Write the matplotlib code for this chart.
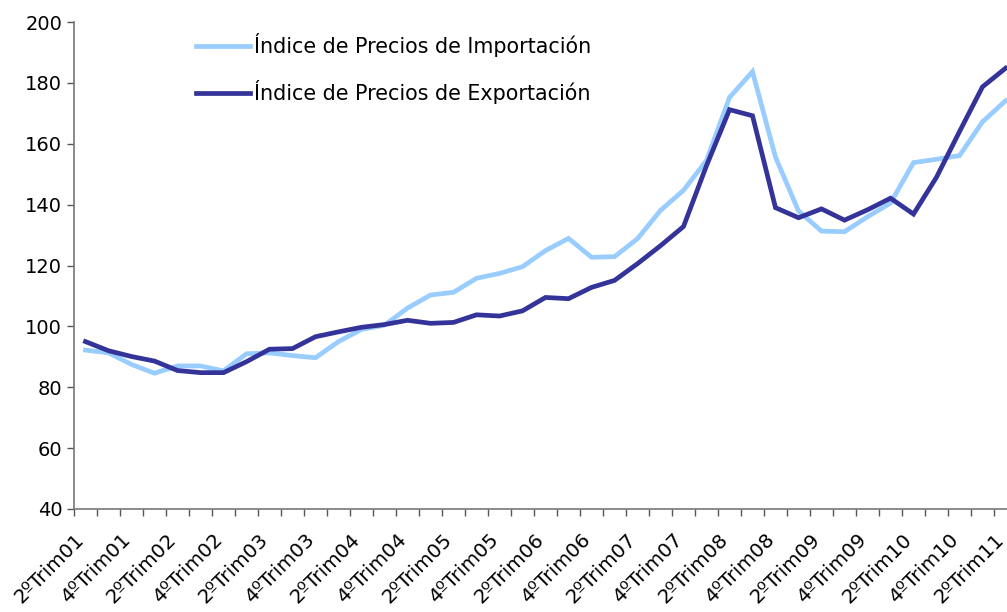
import matplotlib
matplotlib.use("Agg")
import matplotlib.pyplot as plt
import matplotlib.transforms as mtransforms
from matplotlib.ticker import FixedLocator
import numpy as np

# quarterly series, 2ºTrim01 .. 2ºTrim11
quarters = []
for yy in range(1, 12):
    for q in range(1, 5):
        quarters.append("%dºTrim%02d" % (q, yy))
quarters = quarters[1:42]

importacion = [92.2, 91.3, 87.5, 84.6, 87.0, 87.0, 85.4, 91.0, 91.3, 90.4,
               89.7, 95.0, 99.0, 100.4, 106.0, 110.3, 111.2, 115.8, 117.4, 119.6,
               124.9, 128.9, 122.7, 122.9, 128.8, 138.1, 144.7, 154.5, 175.2, 183.7,
               155.6, 137.9, 131.3, 131.1, 136.0, 140.5, 153.8, 154.9, 156.1, 167.2,
               174.1]
exportacion = [95.0, 92.0, 90.1, 88.6, 85.5, 84.8, 84.8, 88.4, 92.5, 92.7,
               96.6, 98.2, 99.7, 100.6, 102.0, 101.0, 101.3, 103.8, 103.4, 105.1,
               109.5, 109.1, 112.8, 115.1, 120.6, 126.5, 132.8, 152.8, 171.2, 169.2,
               139.0, 135.7, 138.6, 134.9, 138.3, 142.1, 136.9, 149.0, 164.0, 178.7,
               184.8]

x = np.arange(len(quarters))

fig = plt.figure(figsize=(10.07, 6.12), dpi=100)
ax = fig.add_axes([74/1007, 103/612, 1 - 74/1007, 487/612])

ax.plot(x, importacion, color='#99CCFF', lw=3.4, label='Índice de Precios de Importación',
        solid_joinstyle='miter', clip_on=False)
ax.plot(x, exportacion, color='#333399', lw=3.4, label='Índice de Precios de Exportación',
        solid_joinstyle='miter', clip_on=False)

ax.set_xlim(-0.5, -0.5 + (1007 - 74) / 23.0)
ax.set_ylim(40, 200)
ax.set_yticks(range(40, 201, 20))

ax.xaxis.set_major_locator(FixedLocator(x[::2]))
ax.set_xticklabels(quarters[::2], rotation=45, ha='right', rotation_mode='anchor', fontsize=14.3)
ax.xaxis.set_minor_locator(FixedLocator(np.arange(-0.5, len(quarters) + 0.5, 1)))
ax.tick_params(axis='x', which='major', length=0, pad=15)
ax.tick_params(axis='x', which='minor', length=5, width=1, color='#555555', direction='out')
ax.tick_params(axis='y', length=5, width=1, color='#555555', direction='out', labelsize=14, pad=3.5)

# nudge the slanted labels a little to the left
shift = mtransforms.ScaledTranslation(-11/100, 0, fig.dpi_scale_trans)
for lab in ax.get_xticklabels():
    lab.set_transform(lab.get_transform() + shift)

for s in ['top', 'right']:
    ax.spines[s].set_visible(False)
for s in ['left', 'bottom']:
    ax.spines[s].set_color('#777777')
    ax.spines[s].set_linewidth(1.2)

leg = ax.legend(loc='upper left', bbox_to_anchor=(0.111, 1.016), frameon=False, fontsize=14.9,
                handlelength=2.6, handletextpad=0.2, labelspacing=1.13)

fig.savefig('out.png', dpi=100)
